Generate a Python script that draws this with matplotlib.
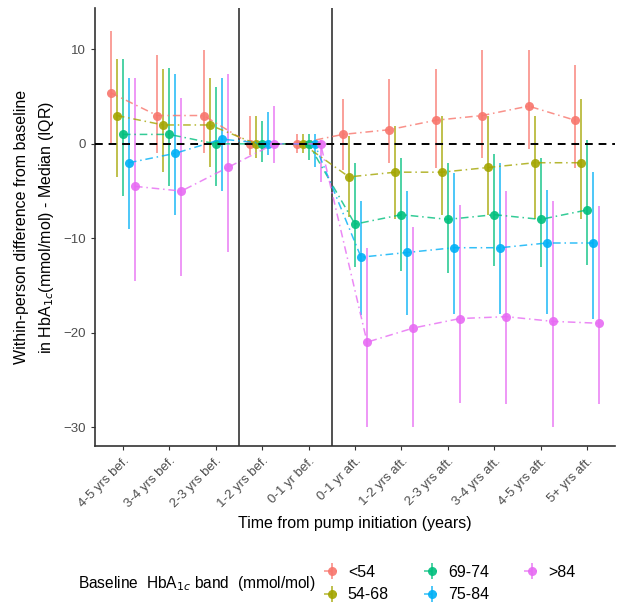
import numpy as np
import matplotlib
matplotlib.use('Agg')
import matplotlib.pyplot as plt
from matplotlib.colors import to_rgba

plt.rcParams['font.family'] = ['Liberation Sans', 'DejaVu Sans']

categories = ['4-5 yrs bef.', '3-4 yrs bef.', '2-3 yrs bef.', '1-2 yrs bef.', '0-1 yr bef.',
              '0-1 yr aft.', '1-2 yrs aft.', '2-3 yrs aft.', '3-4 yrs aft.', '4-5 yrs aft.', '5+ yrs aft.']
bands = ['<54', '54-68', '69-74', '75-84', '>84']
colors = ['#F8766D', '#A3A500', '#00BF7D', '#00B0F6', '#E76BF3']

# medians per band
med_54 = [5.4, 3, 3, 0, 0, 1, 1.5, 2.5, 3, 4, 2.5]
med_54_68 = [3, 2, 2, 0, 0, -3.5, -3, -3, -2.5, -2, -2]
med_69_74 = [1, 1, 0, 0, 0, -8.5, -7.5, -8, -7.5, -8, -7]
med_75_84 = [-2, -1, 0.5, 0, 0, -12, -11.5, -11, -11, -10.5, -10.5]
med_84 = [-4.5, -5, -2.5, 0, 0, -21, -19.5, -18.5, -18.3, -18.8, -19]

# lower quartiles
lo_54 = [0, -1, -1, -1.2, -1, -2.8, -2, -2.6, -1.5, -0.5, -2.6]
lo_54_68 = [-3.5, -3, -2.4, -1.5, -1, -7.7, -8, -7.5, -7.5, -8, -8]
lo_69_74 = [-5.5, -4.5, -4.5, -1.9, -1.7, -13, -13.5, -13.7, -12.9, -13, -12.8]
lo_75_84 = [-9, -7.5, -5, -1.2, -2.4, -18.1, -18.1, -18, -18, -18, -18.5]
lo_84 = [-14.5, -14, -11.5, -2, -4, -30, -30, -27.4, -27.6, -30, -27.6]

# upper quartiles
hi_54 = [12, 9.4, 9.9, 2.9, 1, 4.8, 6.9, 7.9, 9.9, 9.9, 8.3]
hi_54_68 = [9, 7.9, 7, 2.9, 1, 0.8, 1.9, 2.9, 2.9, 2.9, 4.8]
hi_69_74 = [9, 8, 6, 2.4, 1, -2, -1.5, -2, -1.1, -1.5, 0.4]
hi_75_84 = [7, 7.4, 7, 3.4, 1, -6, -5, -3.1, -2, -4.9, -3]
hi_84 = [7, 4.9, 7.4, 4, 0.4, -11, -8.8, -6.5, -5, -6.1, -6.6]

meds = [med_54, med_54_68, med_69_74, med_75_84, med_84]
los = [lo_54, lo_54_68, lo_69_74, lo_75_84, lo_84]
his = [hi_54, hi_54_68, hi_69_74, hi_75_84, hi_84]

fig = plt.figure(figsize=(6.19, 6.06), dpi=100)
ax = fig.add_axes([0.1535, 0.264, 0.84, 0.723])

x = np.arange(len(categories))
dodge = 0.13
handles = []
for i, band in enumerate(bands):
    xs = x + (i - 2) * dodge
    m = np.array(meds[i])
    lo = np.array(los[i])
    hi = np.array(his[i])
    eb = ax.errorbar(xs, m, yerr=[m - lo, hi - m], color=to_rgba(colors[i], 0.8),
                     ls=(0, (5, 2.5, 1, 2.5)), lw=1.1, marker='o', ms=6.5,
                     mfc=to_rgba(colors[i], 0.9), mec='none',
                     ecolor=to_rgba(colors[i], 0.7), elinewidth=1.4, capsize=0,
                     label=band, zorder=3)
    handles.append(eb)

ax.axhline(0, color='black', ls=(0, (4, 3)), lw=1.4, zorder=5)
ax.axvline(2.5, color='#333333', lw=1.2, zorder=1)
ax.axvline(4.5, color='#333333', lw=1.2, zorder=1)

ax.set_xlim(-0.6, 10.6)
ax.set_ylim(-32.0, 14.4)
ax.set_yticks([10, 0, -10, -20, -30])
ax.set_xticks(x)
ax.set_xticklabels(categories, rotation=45, ha='right', rotation_mode='anchor')
ax.tick_params(axis='both', colors='#333333', labelcolor='#4d4d4d', labelsize=9.5, length=3)
for s in ['top', 'right']:
    ax.spines[s].set_visible(False)
for s in ['left', 'bottom']:
    ax.spines[s].set_color('#333333')
    ax.spines[s].set_linewidth(1.2)

ax.set_xlabel('Time from pump initiation (years)', fontsize=11.5, color='black', labelpad=4)
ax.set_ylabel('Within-person difference from baseline\nin HbA$_{1c}$(mmol/mol) - Median (IQR)',
              fontsize=11.5, color='black', labelpad=5, linespacing=1.6)

leg = fig.legend(handles=handles, ncol=3, loc='center left', bbox_to_anchor=(0.5, 0.037),
                 frameon=False, fontsize=11.5, handlelength=1.0, columnspacing=2.2,
                 labelspacing=0.45, handletextpad=0.5)
fig.text(0.51, 0.037, 'Baseline  HbA$_{1c}$ band  (mmol/mol)', fontsize=11.2, ha='right', va='center')

fig.savefig('out.png', dpi=100)
